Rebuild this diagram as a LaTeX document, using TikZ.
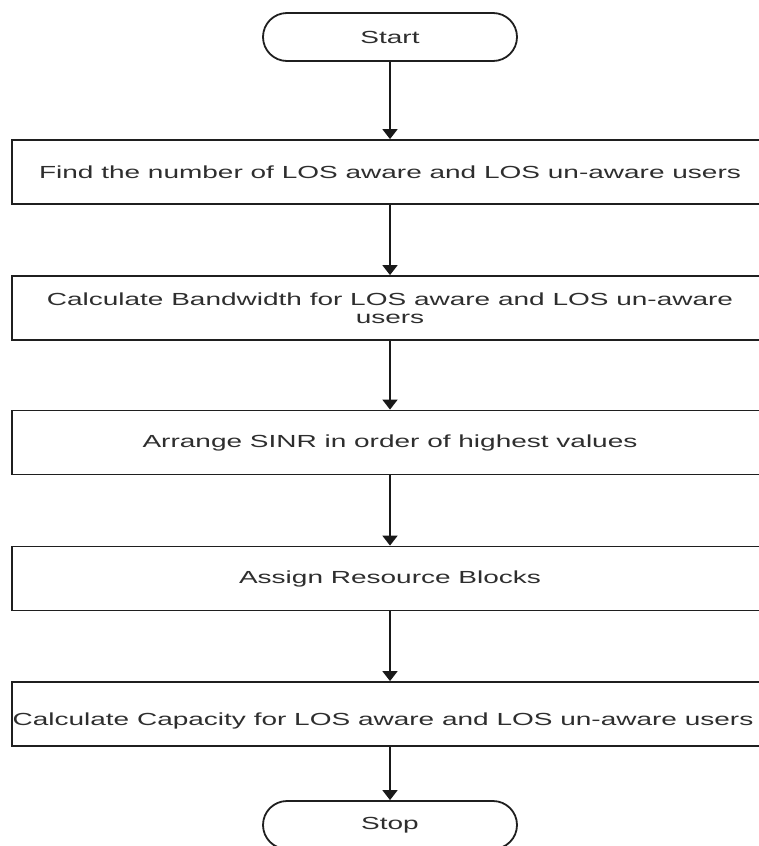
\documentclass[tikz,border=0pt]{standalone}
\usepackage{fontspec}
\setmainfont{Liberation Sans}
\newfontfamily\wfont[FakeStretch=1.6]{Liberation Sans}
\usetikzlibrary{arrows.meta,shapes.misc}
\begin{document}
\begin{tikzpicture}[x=1pt,y=-1pt,
  linecol/.style={draw=black!88, line width=1.8pt},
  txt/.style={text=black!82, font=\wfont\fontsize{17.5}{18}\selectfont, inner sep=0pt, align=center},
  term/.style={linecol, rounded rectangle, minimum width=254pt, minimum height=48pt, txt},
  procbox/.style={linecol, rectangle, minimum width=756pt, minimum height=64pt, txt},
  flow/.style={draw=black!90, line width=1.8pt, -{Triangle[width=15pt,length=10pt]}}
]
\useasboundingbox (0,0) rectangle (759,846);
\fill[white] (0,0) rectangle (759,846);
\node[term] (start) at (390,37) {Start};
\node[procbox] (b1) at (390,172) {Find the number of LOS aware and LOS un-aware users};
\node[procbox] (b2) at (390,308) {Calculate Bandwidth for LOS aware and LOS un-aware\\users};
\node[procbox] (b3) at (390,442.5) {Arrange SINR in order of highest values};
\node[procbox] (b4) at (390,578.5) {Assign Resource Blocks};
\node[procbox] (b5) at (390,714) {};
\node[txt] (b5t) at (383,721) {Calculate Capacity for LOS aware and LOS un-aware users};
\node[term] (stop) at (390,825) {Stop};
\draw[flow] (start) -- (b1);
\draw[flow] (b1) -- (b2);
\draw[flow] (b2) -- (b3);
\draw[flow] (b3) -- (b4);
\draw[flow] (b4) -- (b5);
\draw[flow] (b5) -- (stop);
\end{tikzpicture}
\end{document}
